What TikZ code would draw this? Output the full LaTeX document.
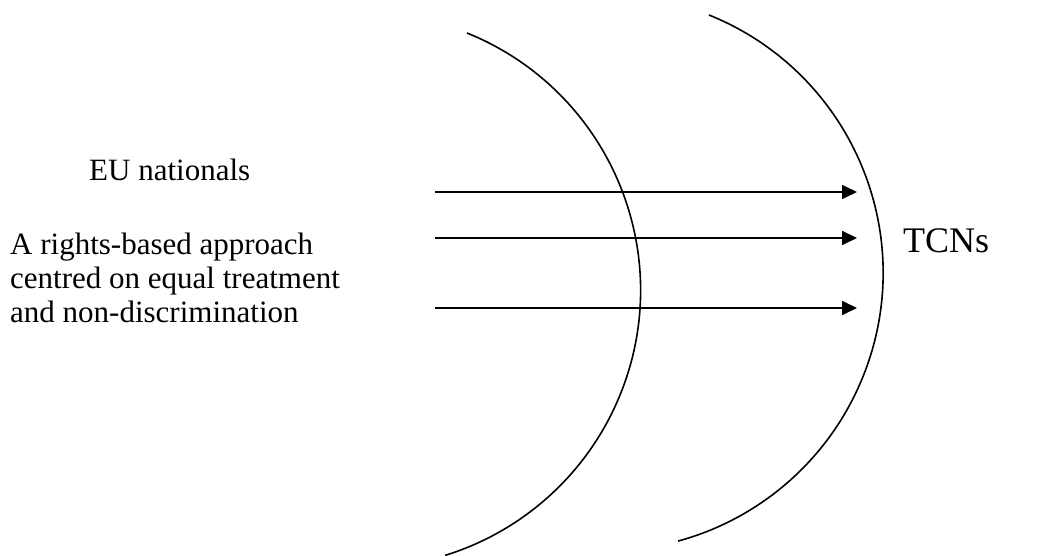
\documentclass[tikz,border=0pt]{standalone}
\usepackage{fontspec}
\setmainfont{Liberation Serif}
\usetikzlibrary{arrows.meta}
\begin{document}
\begin{tikzpicture}[x=1pt,y=-1pt,
  flow/.style={line width=1.8pt,-{Triangle[length=15pt,width=14pt]}},
  ring/.style={line width=1.6pt},
  label/.style={inner sep=0pt,font=\fontsize{31}{34}\selectfont},
  biglabel/.style={inner sep=0pt,font=\fontsize{36}{40}\selectfont}]
\useasboundingbox (0,0) rectangle (1039,556);
% arcs
\draw[ring] (467,33) arc[start angle=-68, end angle=72.8, radius=277.5];
\draw[ring] (709,15) arc[start angle=-68.05, end angle=74.8, radius=278];
% texts
\node[label,anchor=base west] (eu) at (89,181) {EU nationals};
\node[label,anchor=north west,align=left] (rb) at (10,233) {A rights-based approach\\centred on equal treatment\\and non-discrimination};
\node[biglabel,anchor=base west] (tcn) at (903,252) {TCNs};
% arrows
\coordinate (s1) at (435,192); \coordinate (e1) at (857,192);
\coordinate (s2) at (435,238); \coordinate (e2) at (857,238);
\coordinate (s3) at (435,308); \coordinate (e3) at (857,308);
\draw[flow] (s1) -- (e1);
\draw[flow] (s2) -- (e2);
\draw[flow] (s3) -- (e3);
\end{tikzpicture}
\end{document}
